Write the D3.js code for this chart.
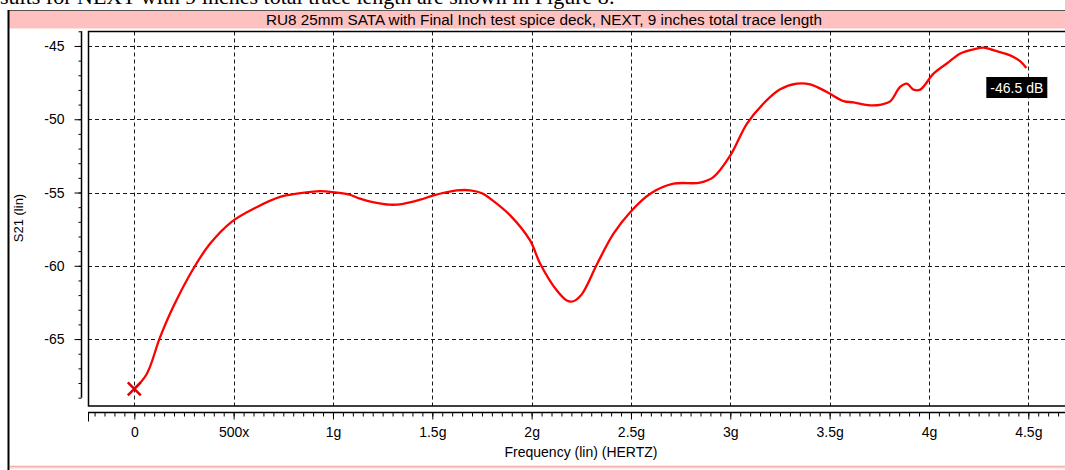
<!DOCTYPE html>
<html>
<head>
<meta charset="utf-8">
<script src="https://cdn.jsdelivr.net/npm/d3@7"></script>
<style>
  html, body { margin: 0; padding: 0; background: #fff; }
  svg { display: block; }
  text { font-family: "Liberation Sans", Arial, sans-serif; }
</style>
</head>
<body>
<svg id="chart" width="1065" height="470"></svg>
<script>
// Measured NEXT response: frequency in GHz, S21 in dB
const freqGHz = [0, 0.062, 0.129, 0.196, 0.297, 0.381, 0.49, 0.616, 0.734, 0.818, 0.935, 1.0, 1.078,
  1.136, 1.2, 1.287, 1.354, 1.439, 1.506, 1.623, 1.69, 1.75, 1.8, 1.892, 1.992, 2.043, 2.127, 2.177,
  2.21, 2.252, 2.33, 2.412, 2.496, 2.597, 2.714, 2.848, 2.915, 3.0, 3.084, 3.167, 3.251, 3.335,
  3.402, 3.486, 3.57, 3.62, 3.704, 3.76, 3.805, 3.855, 3.889, 3.922, 3.956, 4.023, 4.09, 4.158,
  4.225, 4.275, 4.325, 4.409, 4.46, 4.49];
const s21dB = [-68.4, -67.4, -64.9, -62.8, -60.2, -58.5, -57.0, -56.0, -55.3, -55.08, -54.9, -54.97, -55.13,
  -55.42, -55.65, -55.83, -55.77, -55.49, -55.2, -54.86, -54.85, -55.05, -55.5, -56.56, -58.27, -59.86, -61.69, -62.37,
  -62.42, -61.95, -59.86, -57.81, -56.34, -55.08, -54.4, -54.33, -53.95, -52.47, -50.3, -48.93, -47.96, -47.57,
  -47.62, -48.14, -48.76, -48.85, -49.05, -49.0, -48.78, -47.8, -47.57, -47.98, -47.98, -46.89, -46.2, -45.52,
  -45.23, -45.11, -45.29, -45.64, -46.05, -46.5];

const xMajorTicks = [0, 0.5, 1, 1.5, 2, 2.5, 3, 3.5, 4, 4.5];
const xTickLabels = ["0", "500x", "1g", "1.5g", "2g", "2.5g", "3g", "3.5g", "4g", "4.5g"];
const yMajorTicks = [-45, -50, -55, -60, -65];
const yTickLabels = ["-45", "-50", "-55", "-60", "-65"];

const titleText = "RU8 25mm SATA with Final Inch test spice deck, NEXT, 9 inches total trace length";
const xAxisTitle = "Frequency (lin) (HERTZ)";
const yAxisTitle = "S21 (lin)";
const cursorLabel = "-46.5 dB";
const captionText = "sults for NEXT with 9 inches total trace length are shown in Figure 8:";

const svg = d3.select("#chart");
const W = 1065, H = 470;

// Plot frame geometry
const plotLeft = 88, plotTop = 31.5, plotBottom = 406, plotRight = 1070;
const yAxisX = 81.5, xAxisY = 412.5;

const x = d3.scaleLinear().domain([0, 4.5]).range([134.3, 1028.3]);
const y = d3.scaleLinear().domain([-69, -44]).range([397.7, 31.3]);

// Document caption line above the panel
svg.append("text")
  .attr("x", 0).attr("y", 3.5)
  .style("font-family", "'Liberation Serif', 'Times New Roman', serif")
  .attr("font-size", 22)
  .attr("fill", "#000")
  .text(captionText);

// Outer panel frame
svg.append("rect").attr("x", 9).attr("y", 10).attr("width", W).attr("height", 460).attr("fill", "#fff");
svg.append("rect").attr("x", 9).attr("y", 10.5).attr("width", W).attr("height", 18).attr("fill", "#ffc0c0");
svg.append("line").attr("x1", 9).attr("x2", W).attr("y1", 10.5).attr("y2", 10.5).attr("stroke", "#555").attr("stroke-width", 1);
svg.append("line").attr("x1", 8.5).attr("x2", 8.5).attr("y1", 10).attr("y2", H).attr("stroke", "#000").attr("stroke-width", 2);
svg.append("rect").attr("x", 10).attr("y", 465.5).attr("width", W).attr("height", 3).attr("fill", "#f8d0d0");
svg.append("line").attr("x1", 10).attr("x2", W).attr("y1", 466.5).attr("y2", 466.5).attr("stroke", "#f0b4b4").attr("stroke-width", 1);

// Title
svg.append("text")
  .attr("x", 266).attr("y", 24.5)
  .attr("font-size", 14)
  .attr("textLength", 556)
  .attr("lengthAdjust", "spacingAndGlyphs")
  .attr("fill", "#000")
  .text(titleText);

// Grid lines
const grid = svg.append("g").attr("stroke", "#1a1a1a").attr("stroke-width", 1).attr("stroke-dasharray", "4,3");
grid.selectAll("line.vx").data(xMajorTicks).join("line")
  .attr("x1", d => Math.round(x(d)) + 0.5).attr("x2", d => Math.round(x(d)) + 0.5)
  .attr("y1", plotTop).attr("y2", plotBottom);
grid.selectAll("line.hy").data(yMajorTicks).join("line")
  .attr("y1", d => Math.round(y(d)) + 0.5).attr("y2", d => Math.round(y(d)) + 0.5)
  .attr("x1", plotLeft).attr("x2", plotRight);

// Plot frame
svg.append("path")
  .attr("d", `M${plotRight},${plotTop} H${plotLeft + 0.5} V${plotBottom} H${plotRight}`)
  .attr("fill", "none").attr("stroke", "#000").attr("stroke-width", 1.5);

// Y axis with 1 dB minor ticks
const yMinor = d3.range(-69, -43.99, 1);
const yAxisG = svg.append("g").attr("transform", `translate(${yAxisX},0)`);
yAxisG.call(d3.axisLeft(y).tickValues(yMinor).tickSize(3).tickFormat(""));
yAxisG.select(".domain").remove();
yAxisG.append("line").attr("x1", 0).attr("x2", 0).attr("y1", y(-44)).attr("y2", y(-69)).attr("stroke", "#000").attr("stroke-width", 1.5);
const yMajG = svg.append("g").attr("transform", `translate(${yAxisX},0)`);
yMajG.call(d3.axisLeft(y).tickValues(yMajorTicks).tickSize(7).tickPadding(10)
  .tickFormat((d, i) => yTickLabels[i]));
yMajG.select(".domain").remove();
yMajG.selectAll("text").attr("font-size", 14).attr("font-family", "'Liberation Sans', Arial, sans-serif").attr("fill", "#000");
svg.selectAll(".tick line").attr("stroke", "#000");

// X axis with 50 MHz minor ticks
const xMinor = d3.range(-0.2, 4.66, 0.05).map(v => +v.toFixed(2));
const xAxisG = svg.append("g").attr("transform", `translate(0,${xAxisY})`);
xAxisG.call(d3.axisBottom(x).tickValues(xMinor).tickSize(4).tickFormat(""));
xAxisG.select(".domain").remove();
xAxisG.append("line").attr("x1", plotLeft).attr("x2", plotRight).attr("y1", 0).attr("y2", 0).attr("stroke", "#000").attr("stroke-width", 1.5);
xAxisG.append("line").attr("x1", plotLeft + 0.5).attr("x2", plotLeft + 0.5).attr("y1", 0).attr("y2", 9).attr("stroke", "#000").attr("stroke-width", 1);
const xMajG = svg.append("g").attr("transform", `translate(0,${xAxisY})`);
xMajG.call(d3.axisBottom(x).tickValues(xMajorTicks).tickSize(7).tickPadding(8)
  .tickFormat((d, i) => xTickLabels[i]));
xMajG.select(".domain").remove();
xMajG.selectAll("text").attr("font-size", 14).attr("font-family", "'Liberation Sans', Arial, sans-serif").attr("fill", "#000");
svg.selectAll(".tick line").attr("stroke", "#000");

// Axis titles
svg.append("text")
  .attr("x", 581).attr("y", 457)
  .attr("text-anchor", "middle").attr("font-size", 14).attr("fill", "#000")
  .text(xAxisTitle);
svg.append("text")
  .attr("transform", "translate(23,218) rotate(-90)")
  .attr("text-anchor", "middle").attr("font-size", 13).attr("fill", "#000")
  .text(yAxisTitle);

// Response trace
const pts = freqGHz.map((f, i) => [f, s21dB[i]]);
const line = d3.line().x(d => x(d[0])).y(d => y(d[1])).curve(d3.curveCatmullRom.alpha(0.5));
svg.append("path")
  .datum(pts)
  .attr("d", line)
  .attr("fill", "none")
  .attr("stroke", "#ff0000")
  .attr("stroke-width", 2.3)
  .attr("stroke-linejoin", "round");

// Start marker
const mx = x(freqGHz[0]), my = y(s21dB[0]), ms = 6.5;
svg.append("path")
  .attr("d", `M${mx - ms},${my - ms}L${mx + ms},${my + ms}M${mx - ms},${my + ms}L${mx + ms},${my - ms}`)
  .attr("stroke", "#e00000").attr("stroke-width", 2.5).attr("fill", "none");

// Cursor readout at the last point
const lastF = freqGHz[freqGHz.length - 1];
const lbl = svg.append("g");
lbl.append("rect")
  .attr("x", x(lastF) - 40).attr("y", 77)
  .attr("width", 61).attr("height", 21)
  .attr("fill", "#000");
lbl.append("text")
  .attr("x", x(lastF) - 9.5).attr("y", 92.5)
  .attr("text-anchor", "middle").attr("font-size", 14).attr("fill", "#fff")
  .text(cursorLabel);
</script>
</body>
</html>
